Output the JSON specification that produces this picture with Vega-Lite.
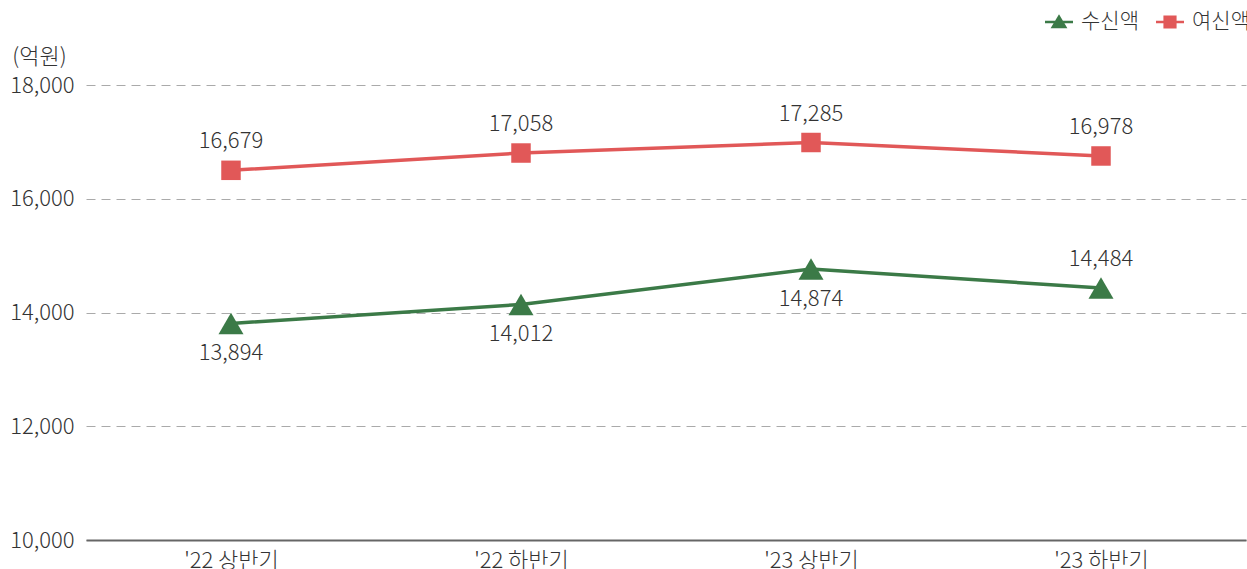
{
  "$schema": "https://vega.github.io/schema/vega-lite/v6.json",
  "autosize": "none",
  "width": 1160,
  "height": 455,
  "padding": {"left": 86, "top": 85, "right": 1, "bottom": 29},
  "background": "white",
  "config": {
    "font": "Noto Sans CJK KR",
    "view": {"stroke": null},
    "text": {"font": "Noto Sans CJK KR"}
  },
  "data": {
    "values": [
      {"period": "'22 상반기", "series": "수신액", "value": 13807, "label": "13,894"},
      {"period": "'22 하반기", "series": "수신액", "value": 14141, "label": "14,012"},
      {"period": "'23 상반기", "series": "수신액", "value": 14765, "label": "14,874"},
      {"period": "'23 하반기", "series": "수신액", "value": 14431, "label": "14,484"},
      {"period": "'22 상반기", "series": "여신액", "value": 16500, "label": "16,679"},
      {"period": "'22 하반기", "series": "여신액", "value": 16804, "label": "17,058"},
      {"period": "'23 상반기", "series": "여신액", "value": 16989, "label": "17,285"},
      {"period": "'23 하반기", "series": "여신액", "value": 16752, "label": "16,978"}
    ]
  },
  "encoding": {
    "x": {
      "field": "period", "type": "nominal", "sort": null,
      "scale": {"type": "point", "padding": 0.5},
      "axis": {
        "title": null, "labelAngle": 0, "ticks": false,
        "domainColor": "#666666", "domainWidth": 2,
        "labelFontSize": 22, "labelColor": "#333333", "labelPadding": 10,
        "labelFontWeight": 300, "grid": false
      }
    },
    "y": {
      "field": "value", "type": "quantitative",
      "scale": {"domain": [10000, 18000], "nice": false, "zero": false},
      "axis": {
        "values": [10000, 12000, 14000, 16000, 18000],
        "format": ",d", "domain": false, "ticks": false,
        "labelFontSize": 22, "labelColor": "#333333", "labelPadding": 12,
        "labelFontWeight": 300,
        "gridColor": "#aaaaaa", "gridDash": [9, 6], "gridWidth": 1,
        "title": "(억원)", "titleAngle": 0, "titleX": -47, "titleY": -29,
        "titleAlign": "center", "titleBaseline": "middle",
        "titleFontSize": 22, "titleFontWeight": 300, "titleColor": "#333333"
      }
    },
    "color": {
      "field": "series", "type": "nominal",
      "scale": {"domain": ["수신액", "여신액"], "range": ["#3b7a47", "#e15858"]},
      "legend": {
        "title": null, "orient": "none", "direction": "horizontal",
        "legendX": 959, "legendY": -77,
        "labelFontSize": 21, "labelFontWeight": 300, "labelColor": "#333333",
        "symbolSize": 784, "symbolStrokeWidth": 0, "labelOffset": 8,
        "columnPadding": 17, "symbolOpacity": 1, "symbolType": "circle",
        "encode": {
          "symbols": {
            "update": {
              "shape": {"signal": "datum.value === '수신액' ? 'M-1,-0.09H1V0.09H-1Z M0,-0.55L0.6,0.45H-0.6Z' : 'M-1,-0.09H1V0.09H-1Z M-0.47,-0.47H0.47V0.47H-0.47Z'"}
            }
          }
        }
      }
    }
  },
  "layer": [
    {
      "mark": {"type": "line", "strokeWidth": 3.5}
    },
    {
      "mark": {"type": "point", "filled": true, "opacity": 1},
      "encoding": {
        "shape": {"condition": {"test": "datum.series === '수신액'", "value": "triangle-up"}, "value": "square"},
        "size": {"condition": {"test": "datum.series === '수신액'", "value": 625}, "value": 380}
      }
    },
    {
      "transform": [{"filter": "datum.series === '여신액' || datum.period === \"'23 하반기\""}],
      "mark": {"type": "text", "dy": -29, "fontSize": 22, "fontWeight": 300, "color": "#333333"},
      "encoding": {"text": {"field": "label"}, "color": {"value": "#333333"}}
    },
    {
      "transform": [{"filter": "datum.series === '수신액' && datum.period !== \"'23 하반기\""}],
      "mark": {"type": "text", "dy": 30, "fontSize": 22, "fontWeight": 300, "color": "#333333"},
      "encoding": {"text": {"field": "label"}, "color": {"value": "#333333"}}
    }
  ]
}
